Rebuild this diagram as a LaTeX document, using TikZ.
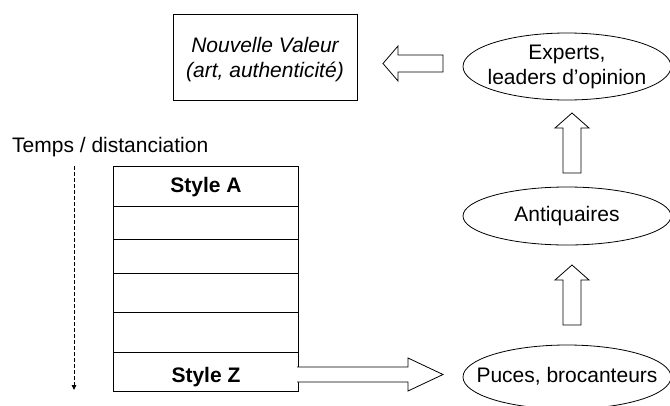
\documentclass[tikz,border=0pt]{standalone}
\usepackage{fontspec}
\setmainfont{Liberation Sans}
\usetikzlibrary{shapes.geometric,arrows.meta}

\tikzset{
  txt/.style={font=\fontsize{21}{25}\selectfont, inner sep=0pt},
  actor/.style={draw, ellipse, line width=0.8pt, minimum width=208pt, inner sep=0pt},
  valuebox/.style={draw, line width=0.8pt, minimum width=184pt, minimum height=86pt, inner sep=0pt},
  blockarrow/.style={draw, line width=0.8pt, fill=white, line join=miter},
  row/.style={draw, line width=0.8pt}
}

\begin{document}
\begin{tikzpicture}[x=1pt,y=-1pt]
  \useasboundingbox (0,0) rectangle (670,405);

  % value box
  \node[valuebox] (nv) at (265,57) {};
  \node[txt, align=center, font=\fontsize{21}{25}\selectfont\itshape] (nvt) at (265,60)
    {Nouvelle Valeur\\(art, authenticité)};

  % actors: fixed-size ellipses with their labels set on top
  \node[actor, minimum height=67pt] (exp) at (567,66.5) {};
  \node[txt, align=center] (expt) at (exp.center) {Experts,\\leaders d’opinion};
  \node[actor, minimum height=58pt] (ant) at (567,216) {};
  \node[txt] (antt) at (ant.center) {Antiquaires};
  \node[actor, minimum height=64pt] (puc) at (567,377) {};
  \node[txt] (puct) at ([yshift=1pt]puc.center) {Puces, brocanteurs};

  % time axis
  \node[txt, anchor=base west] (tps) at (12,152) {Temps / distanciation};
  \coordinate (t0) at (74,166);
  \coordinate (t1) at (74,390);
  \draw[line width=0.9pt, dash pattern=on 4pt off 2pt,
        -{Triangle[length=5pt,width=4.5pt]}] (t0) -- (t1);

  % stack of styles
  \draw[row] (113,166) rectangle (298,391);
  \foreach \yy in {206,239,273,312,352}
    \draw[row] (113,\yy) -- (298,\yy);
  \node[txt, font=\fontsize{21}{25}\selectfont\bfseries, anchor=base] (sa) at (206,192) {Style A};
  \node[txt, font=\fontsize{21}{25}\selectfont\bfseries, anchor=base] (sz) at (206,382) {Style Z};

  % block arrows
  \draw[blockarrow] (297,367) -- (408,367) -- (408,358) -- (443,374.5)
    -- (408,391) -- (408,382) -- (297,382);
  \draw[blockarrow] (563,325) -- (563,280) -- (555,280) -- (572,265)
    -- (589,280) -- (581,280) -- (581,325) -- cycle;
  \draw[blockarrow] (563,173) -- (563,128) -- (555,128) -- (572,113)
    -- (589,128) -- (581,128) -- (581,173) -- cycle;
  \draw[blockarrow] (443,55) -- (398,55) -- (398,46) -- (383,63.5)
    -- (398,81) -- (398,72) -- (443,72) -- cycle;
\end{tikzpicture}
\end{document}
